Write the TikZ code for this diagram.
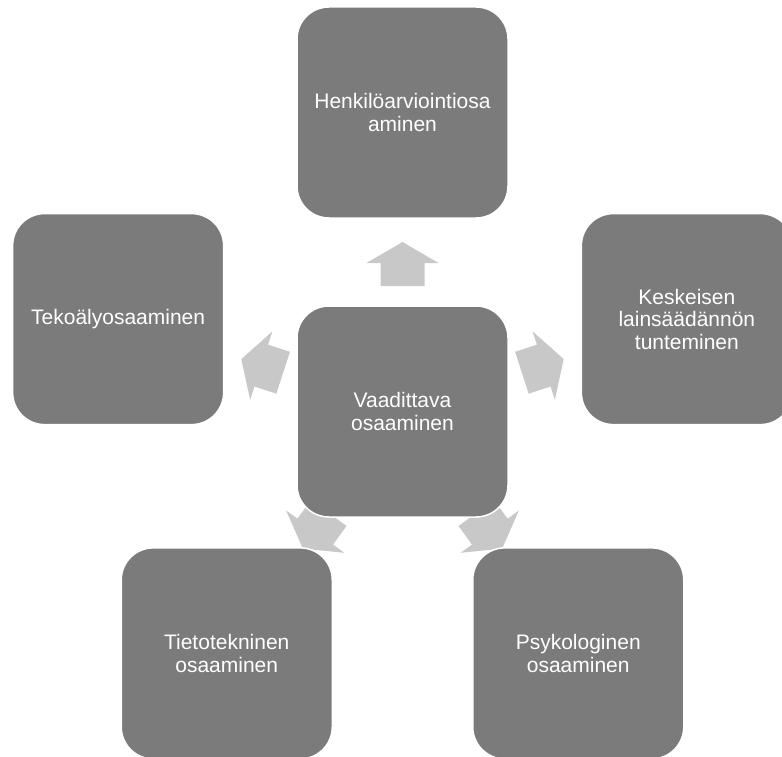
\documentclass[tikz,border=0pt]{standalone}
\usepackage{fontspec}
\setmainfont{Liberation Sans}
\usetikzlibrary{calc}
\pgfdeclarelayer{bg}
\pgfsetlayers{bg,main}

\definecolor{boxfill}{HTML}{7B7B7B}
\definecolor{arrowfill}{HTML}{C8C8C8}

\tikzset{
  skillbox/.style={rectangle, minimum width=211pt, minimum height=211pt,
    rounded corners=32pt, fill=boxfill, draw=white, line width=1.5pt,
    text=white, align=center, inner sep=0pt,
    font=\fontsize{21}{22.5}\selectfont},
}

% block arrow pointing from hub #1 towards box #2
\newcommand\radialarrow[2]{%
  \fill[arrowfill]
    ($(#1.center)!125.5pt!(#2.center)!22pt!90:(#2.center)$) --
    ($(#1.center)!148.5pt!(#2.center)!22pt!90:(#2.center)$) --
    ($(#1.center)!148.5pt!(#2.center)!36pt!90:(#2.center)$) --
    ($(#1.center)!169.5pt!(#2.center)$) --
    ($(#1.center)!148.5pt!(#2.center)!36pt!-90:(#2.center)$) --
    ($(#1.center)!148.5pt!(#2.center)!22pt!-90:(#2.center)$) --
    ($(#1.center)!125.5pt!(#2.center)!22pt!-90:(#2.center)$) -- cycle;}

\begin{document}
\begin{tikzpicture}[x=1pt,y=1pt]
  \useasboundingbox (0,0) rectangle (782,-757);
  \clip (0,0) rectangle (782,-757);

  \node[skillbox] (hub) at (402.5,-411.5) {Vaadittava\\osaaminen};
  \node[skillbox] (eval) at ([shift={(90:299pt)}]hub.center) {Henkilöarviointiosa\\aminen};
  \node[skillbox] (law) at ([shift={(18:299pt)}]hub.center) {Keskeisen\\lainsäädännön\\tunteminen};
  \node[skillbox] (psy) at ([shift={(-54:299pt)}]hub.center) {Psykologinen\\osaaminen};
  \node[skillbox] (ict) at ([shift={(234:299pt)}]hub.center) {Tietotekninen\\osaaminen};
  \node[skillbox] (ai) at ([shift={(162:299pt)}]hub.center) {Tekoälyosaaminen};

  \begin{pgfonlayer}{bg}
    \radialarrow{hub}{eval}
    \radialarrow{hub}{law}
    \radialarrow{hub}{psy}
    \radialarrow{hub}{ict}
    \radialarrow{hub}{ai}
  \end{pgfonlayer}
\end{tikzpicture}
\end{document}
